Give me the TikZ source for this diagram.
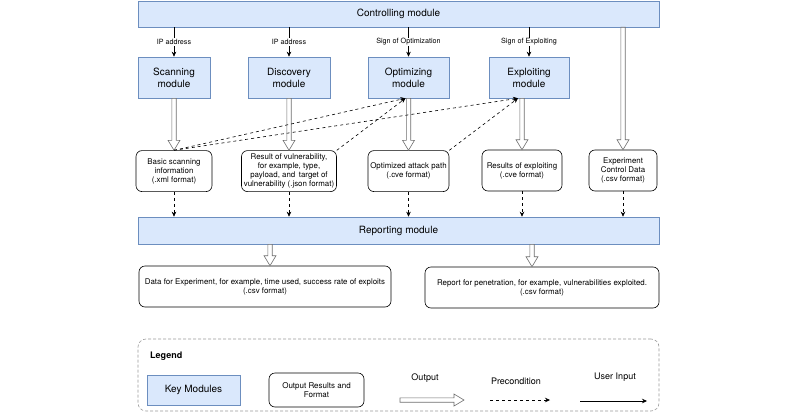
\documentclass[tikz,border=0pt]{standalone}
\usepackage{fontspec}
\setmainfont{TeX Gyre Heros}
\usetikzlibrary{arrows.meta, calc, positioning}
\usepackage{xcolor}
\definecolor{modfill}{HTML}{DAE8FC}
\definecolor{moddraw}{HTML}{6C8EBF}
\definecolor{arrowgray}{HTML}{6E6E6E}
\definecolor{legenddraw}{HTML}{9A9A9A}

\begin{document}
\begin{tikzpicture}[%
    x=1pt, y=-1pt,
    >={Stealth[length=5pt,width=4.5pt]},
    every node/.style={%
      font=\fontsize{7.9}{9}\selectfont,
      text=black,
      text centered,
      align=center,
      inner sep=1pt
    },
    module/.style={draw=moddraw, fill=modfill, line width=0.6pt,
      font=\fontsize{10}{12}\selectfont, minimum height=41pt},
    result/.style={draw=black, rounded corners=6pt, line width=0.6pt,
      minimum height=41pt},
    lbl/.style={fill=white, font=\fontsize{7.2}{8}\selectfont, inner sep=1pt},
    keylbl/.style={font=\fontsize{9}{10}\selectfont},
    pre/.style={->, dash pattern=on 3pt off 3pt, line width=0.6pt},
    outarrow/.style={%
      draw=arrowgray, fill=white, line width=0.6pt,
      to path={%
        -- ($(\tikztostart)!2.2pt!90:(\tikztotarget)$)
        -- ($(\tikztotarget)!10pt!(\tikztostart)!2.2pt!90:(\tikztotarget)$)
        -- ($(\tikztotarget)!10pt!(\tikztostart)!6pt!90:(\tikztotarget)$)
        -- (\tikztotarget)
        -- ($(\tikztotarget)!10pt!(\tikztostart)!6pt!-90:(\tikztotarget)$)
        -- ($(\tikztotarget)!10pt!(\tikztostart)!2.2pt!-90:(\tikztotarget)$)
        -- ($(\tikztostart)!2.2pt!-90:(\tikztotarget)$)
        -- cycle
      }
    }
  ]
  \useasboundingbox (0,0) rectangle (800,412);

  \node[module, minimum width=521pt, minimum height=26pt] (c1) at (398.5,14) {Controlling module};
  \node[module, minimum width=72pt] (m1) at (174,77.5) {Scanning\\module};
  \node[module, minimum width=82pt] (m2) at (289,77.5) {Discovery\\module};
  \node[module, minimum width=81pt] (m3) at (408.5,77.5) {Optimizing\\module};
  \node[module, minimum width=80pt] (m4) at (529,77.5) {Exploiting\\module};

  \node[result, minimum width=76pt, below=52pt of m1] (o1)
    {Basic scanning\\information\\(.xml format)};
  \node[result, minimum width=95pt, below=52pt of m2] (o2)
    {Result of vulnerability,\\for example, type,\\payload, and\, target of\\vulnerability (.json format)};
  \node[result, minimum width=81pt, below=52pt of m3] (o3)
    {Optimized attack path\\(.cve format)};
  \node[result, minimum width=80pt] (o4) at (522,170.5)
    {Results of exploiting\\(.cve format)};
  \node[result, minimum width=68pt] (o5) at (623,170.5)
    {Experiment\\Control Data\\(.csv format)};

  \node[module, minimum width=521pt, minimum height=27pt] (r1) at (398.5,230.5) {Reporting module};

  \node[result, minimum width=252pt] (d1) at (265,286.5)
    {Data for Experiment, for example, time used, success rate of exploits\\(.csv format)};
  \node[result, minimum width=234pt] (d2) at (542,287.5)
    {Report for penetration, for example, vulnerabilities exploited.\\(.csv format)};

  % Inputs from the controlling module
  \draw[->, line width=0.6pt] (c1.south -| m1.north) -- node[lbl] {IP address} (m1.north);
  \draw[->, line width=0.6pt] (c1.south -| m2.north) -- node[lbl] {IP address} (m2.north);
  \draw[->, line width=0.6pt] (c1.south -| m3.north) -- node[lbl] {Sign of Optimization} (m3.north);
  \draw[->, line width=0.6pt] (c1.south -| m4.north) -- node[lbl] {Sign of Exploiting} (m4.north);

  % Outputs
  \draw[outarrow] (m1.south) to (m1.south |- o1.north);
  \draw[outarrow] (m2.south) to (m2.south |- o2.north);
  \draw[outarrow] (m3.south) to (m3.south |- o3.north);
  \draw[outarrow] (m4.south -| o4.north) to (o4.north);
  \draw[outarrow] (c1.south -| o5.north) to (o5.north);
  \draw[outarrow] ($(d1.north |- r1.south)+(5,0)$) to ($(d1.north)+(5,0)$);
  \draw[outarrow] ($(d2.north |- r1.south)+(-10,0)$) to ($(d2.north)+(-10,0)$);

  % Preconditions
  \draw[pre] (o1.north) -- ($(m3.south)+(-3,0)$);
  \draw[pre] (o1.north) -- ($(m4.south)+(-11,0)$);
  \draw[pre] (o2.north east) -- ($(m3.south)+(-3,0)$);
  \draw[pre] (o3.north east) -- ($(m4.south)+(-11,0)$);
  \draw[pre] (o1.south) -- (o1.south |- r1.north);
  \draw[pre] (o2.south) -- (o2.south |- r1.north);
  \draw[pre] (o3.south) -- (o3.south |- r1.north);
  \draw[pre] (o4.south) -- (o4.south |- r1.north);
  \draw[pre] (o5.south) -- (o5.south |- r1.north);

  % Legend
  \node[draw=legenddraw, dash pattern=on 3pt off 2pt, rounded corners=8pt, line width=0.6pt,
    minimum width=521pt, minimum height=72pt] (g0) at (398.5,375) {};
  \node[font=\bfseries\fontsize{9}{10}\selectfont, anchor=west] (g1) at (149,356) {Legend};
  \node[module, minimum width=93pt, minimum height=30pt] (g2) at (193.5,390) {Key Modules};
  \node[result, minimum width=95pt, minimum height=34pt, font=\fontsize{8}{9.5}\selectfont] (g3)
    at (316.5,390) {Output Results and\\Format};
  \node[keylbl] (g4) at (425,378) {Output};
  \node[keylbl] (g5) at (516,381) {Precondition};
  \node[keylbl] (g6) at (615,377) {User Input};
  \coordinate (g4a) at (400,400);
  \coordinate (g4b) at (464,400);
  \coordinate (g5a) at (490,400);
  \coordinate (g5b) at (550,400);
  \coordinate (g6a) at (580,401);
  \coordinate (g6b) at (647,401);
  \draw[outarrow] (g4a) to (g4b);
  \draw[pre] (g5a) -- (g5b);
  \draw[->, line width=0.6pt] (g6a) -- (g6b);

\end{tikzpicture}
\end{document}
